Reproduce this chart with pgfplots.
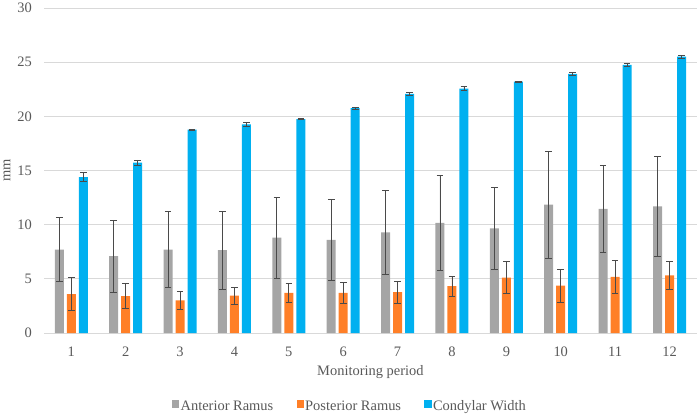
\documentclass[border=0pt]{standalone}
\usepackage{fontspec}
\setmainfont{Liberation Serif}
\usepackage{pgfplots}
\pgfplotsset{compat=1.18}
\usepackage{pgfplotstable}
\definecolor{cgray}{HTML}{A5A5A5}
\definecolor{corange}{HTML}{FF7F27}
\definecolor{cblue}{HTML}{00B0F0}
\definecolor{gridc}{HTML}{D9D9D9}
\definecolor{txt}{HTML}{595959}
\definecolor{errc}{HTML}{4A4A4A}
\pgfplotstableread{
x ant antE post postE cond condE
1 7.70 2.95 3.60 1.55 14.40 0.40
2 7.10 3.33 3.40 1.15 15.72 0.25
3 7.70 3.50 3.02 0.80 18.77 0.03
4 7.65 3.60 3.45 0.77 19.26 0.17
5 8.80 3.73 3.70 0.88 19.75 0.07
6 8.60 3.74 3.70 1.00 20.75 0.08
7 9.30 3.88 3.78 1.00 22.08 0.15
8 10.16 4.37 4.32 0.94 22.56 0.20
9 9.65 3.80 5.12 1.50 23.20 0.02
10 11.85 4.93 4.37 1.52 23.92 0.10
11 11.45 4.05 5.18 1.52 24.75 0.15
12 11.70 4.60 5.32 1.30 25.50 0.15
}\datatable
\begin{document}
\fontsize{14.5}{17}\selectfont
\begin{tikzpicture}[font=\fontsize{14.5}{17}\selectfont]
\begin{axis}[
  scale only axis,
  width=652.6bp, height=325bp,
  ybar=3bp, bar width=9bp,
  xmin=0.5, xmax=12.5, ymin=0, ymax=30,
  xtick={1,...,12}, ytick={0,5,...,30},
  axis x line*=bottom, axis y line*=left,
  x axis line style={draw=gridc, line width=0.8bp},
  y axis line style={draw=none},
  major tick length=0pt,
  ymajorgrids, grid style={draw=gridc, line width=0.8bp},
  /pgf/number format/assume math mode=true,
  ticklabel style={text=txt, inner sep=0pt, font=\fontsize{14.5}{17}\selectfont},
  yticklabel style={anchor=east, xshift=-12bp},
  xticklabel style={anchor=north, yshift=-13.7bp},
  ylabel={mm}, xlabel={Monitoring period},
  label style={text=txt, font=\fontsize{14.5}{17}\selectfont},
  ylabel style={at={(axis description cs:-0.0567,0.5)}, anchor=center},
  xlabel style={at={(axis description cs:0.5,0)}, anchor=base, yshift=-42.6bp, inner sep=0pt},
  legend columns=3,
  legend style={draw=none, fill=none, text=txt, font=\fontsize{14.5}{17}\selectfont,
    at={(axis description cs:0.468,-0.2268)}, anchor=center,
    nodes={inner sep=1.2bp},
    /tikz/every even column/.append style={column sep=22bp}},
  legend image code/.code={\fill[#1,draw=none] (0bp,-1bp) rectangle (7.5bp,6.5bp);},
  error bars/y dir=both, error bars/y explicit,
  error bars/error mark options={rotate=90, mark size=3.3bp, line width=0.7bp, draw=errc},
  error bars/error bar style={line width=0.7bp, draw=errc},
]
\addplot[fill=cgray, draw=none] table[x=x, y=ant, y error=antE] {\datatable};
\addplot[fill=corange, draw=none] table[x=x, y=post, y error=postE] {\datatable};
\addplot[fill=cblue, draw=none] table[x=x, y=cond, y error=condE] {\datatable};
\legend{Anterior Ramus, Posterior Ramus, Condylar Width}
\end{axis}
\pgfresetboundingbox
\path ([xshift=-44.1bp,yshift=-85bp]current axis.south west) rectangle ([xshift=2.3bp,yshift=8bp]current axis.north east);
\end{tikzpicture}
\end{document}
